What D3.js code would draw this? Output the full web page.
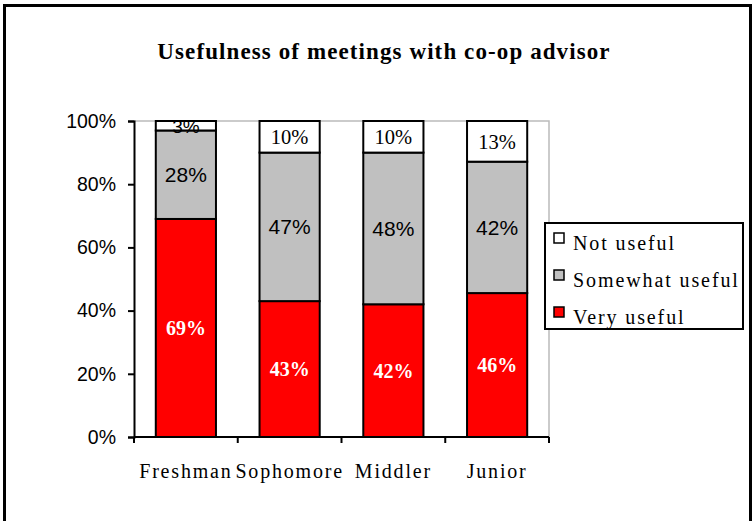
<!DOCTYPE html>
<html>
<head>
<meta charset="UTF-8">
<title>Usefulness of meetings with co-op advisor</title>
<script src="https://cdn.jsdelivr.net/npm/d3@7"></script>
<style>
    body { margin: 0; background: #fff; }
    .titulo { font-family: 'Liberation Serif', serif; font-weight: bold; font-size: 23px; letter-spacing: 1.1px; }
    .ejeY text { font-family: 'Liberation Sans', Arial, sans-serif; font-size: 19.5px; fill: #000; }
    .ejeX text { font-family: 'Liberation Serif', serif; font-size: 20px; letter-spacing: 1.8px; fill: #000; }
    .leyenda text { font-family: 'Liberation Serif', serif; font-size: 20px; letter-spacing: 1.9px; }
</style>
</head>
<body>
<div id="grafico"></div>
<script>
var categorias = ["Freshman", "Sophomore", "Middler", "Junior"];
var muyUtil = [69, 43, 42, 46];
var algoUtil = [28, 47, 48, 42];
var noUtil = [3, 10, 10, 13];
var ticksY = [0, 20, 40, 60, 80, 100];

var series = [
    { nombre: "Very useful", valores: muyUtil, color: "#ff0000", fuente: "'Liberation Serif', serif", peso: "bold", tam: 20, texto: "#fff" },
    { nombre: "Somewhat useful", valores: algoUtil, color: "#c0c0c0", fuente: "'Liberation Sans', Arial, sans-serif", peso: "normal", tam: 21, texto: "#000" },
    { nombre: "Not useful", valores: noUtil, color: "#ffffff", fuente: "'Liberation Serif', serif", peso: "normal", tam: 20.5, texto: "#000" }
];

var w = 754, h = 521;
var x0 = 134, x1 = 549, yTop = 121, yBase = 437;

var svg = d3.select("#grafico").append("svg")
    .attr("width", w).attr("height", h);

// marco exterior
svg.append("rect")
    .attr("x", 4.5).attr("y", 5.5).attr("width", 746).attr("height", 530)
    .attr("fill", "none").attr("stroke", "#000").attr("stroke-width", 3);

svg.append("text").classed("titulo", true)
    .attr("x", 384).attr("y", 59).attr("text-anchor", "middle")
    .text("Usefulness of meetings with co-op advisor");

var xScale = d3.scaleBand().domain(categorias).range([x0, x1]).paddingInner(0.42).paddingOuter(0.21);
var xCat = d3.scaleBand().domain(categorias).range([x0, x1]);
var yScale = d3.scaleLinear().domain([0, 100]).range([yBase, yTop]);

// borde gris del area
svg.append("path")
    .attr("d", "M" + x0 + "," + yScale(100) + "H" + x1 + "V" + yScale(0))
    .attr("fill", "none").attr("stroke", "#bbb").attr("stroke-width", 1.5);

// pila normalizada
var filas = categorias.map(function(c, i) {
    var total = series.reduce(function(s, d) { return s + d.valores[i]; }, 0);
    var acum = 0;
    return series.map(function(s) {
        var v0 = acum;
        acum += s.valores[i];
        return { cat: c, v: s.valores[i], y0: v0 / total * 100, y1: acum / total * 100, s: s };
    });
});

var segmentos = [].concat.apply([], filas);

svg.selectAll(".seg").data(segmentos).enter().append("rect")
    .attr("x", function(d) { return xScale(d.cat); })
    .attr("width", xScale.bandwidth())
    .attr("y", function(d) { return yScale(d.y1); })
    .attr("height", function(d) { return yScale(d.y0) - yScale(d.y1); })
    .attr("fill", function(d) { return d.s.color; })
    .attr("stroke", "#000").attr("stroke-width", 2);

svg.selectAll(".etq").data(segmentos).enter().append("text")
    .attr("x", function(d) { return xScale(d.cat) + xScale.bandwidth() / 2; })
    .attr("y", function(d) { return yScale((d.y0 + d.y1) / 2); })
    .attr("dy", "0.36em")
    .attr("text-anchor", "middle")
    .style("font-family", function(d) { return d.v < 5 ? "'Liberation Sans', Arial, sans-serif" : d.s.fuente; })
    .style("font-weight", function(d) { return d.s.peso; })
    .style("font-size", function(d) { return d.v < 5 ? "19px" : d.s.tam + "px"; })
    .attr("fill", function(d) { return d.s.texto; })
    .text(function(d) { return d.v + "%"; });

// ejes
var ejeY = svg.append("g").classed("ejeY", true)
    .attr("transform", "translate(" + x0 + ",0)")
    .call(d3.axisLeft(yScale).tickValues(ticksY).tickSize(6).tickPadding(12)
        .tickFormat(function(d) { return d + "%"; }));
ejeY.selectAll("line, path").attr("stroke", "#000").attr("stroke-width", 2);

var ejeX = svg.append("g").classed("ejeX", true)
    .attr("transform", "translate(0," + yBase + ")")
    .call(d3.axisBottom(xCat).tickSize(0).tickPadding(23));
ejeX.select(".domain").attr("stroke", "#000").attr("stroke-width", 2).attr("d", "M" + x0 + ",0H" + x1);
ejeX.selectAll(".tick text").attr("dy", "0.9em");

// marcas entre categorias
var bordes = categorias.map(function(c) { return xCat(c); }).concat([x1]);
svg.selectAll(".marcaX").data(bordes).enter().append("line")
    .attr("x1", function(d) { return d; }).attr("x2", function(d) { return d; })
    .attr("y1", yBase).attr("y2", yBase + 6)
    .attr("stroke", "#000").attr("stroke-width", 2);

// leyenda
var ley = svg.append("g").classed("leyenda", true);
ley.append("rect")
    .attr("x", 545).attr("y", 223).attr("width", 198).attr("height", 106)
    .attr("fill", "#fff").attr("stroke", "#000").attr("stroke-width", 2);

var itemsLey = series.slice().reverse();
var yLey = d3.scalePoint().domain(itemsLey.map(function(d) { return d.nombre; })).range([240, 314]);

ley.selectAll(".sw").data(itemsLey).enter().append("rect")
    .attr("x", 554).attr("y", function(d) { return yLey(d.nombre) - 7; })
    .attr("width", 10).attr("height", 10)
    .attr("fill", function(d) { return d.color; })
    .attr("stroke", "#000").attr("stroke-width", 1.5);

ley.selectAll(".lt").data(itemsLey).enter().append("text")
    .attr("x", 573).attr("y", function(d) { return yLey(d.nombre) + 10; })
    .text(function(d) { return d.nombre; });
</script>
</body>
</html>
